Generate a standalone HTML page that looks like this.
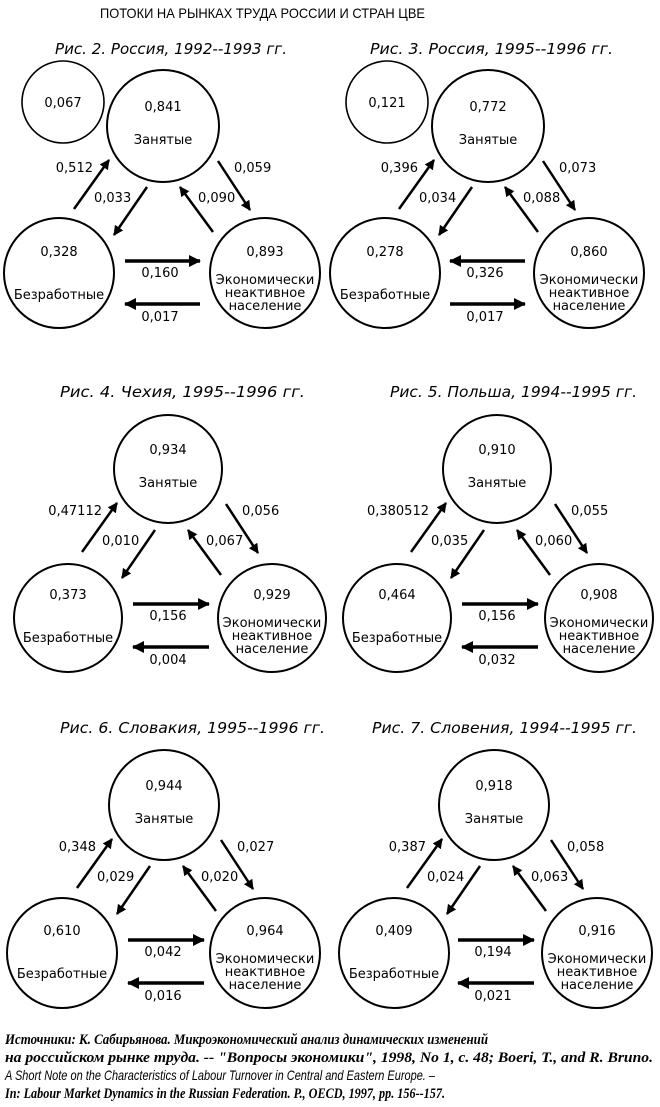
<!DOCTYPE html>
<html><head><meta charset="utf-8"><style>
html,body{margin:0;padding:0;background:#fff;}
svg{display:block;}
.t{font-family:"DejaVu Sans","Liberation Sans",sans-serif;font-size:13px;fill:#000;}
.c{text-anchor:middle;}
.ttl{font-family:"DejaVu Sans","Liberation Sans",sans-serif;font-style:italic;font-size:15px;fill:#000;}
.ft{font-family:"Liberation Serif",serif;font-style:italic;font-weight:bold;font-size:14.5px;fill:#000;}
.fs{font-family:"Liberation Sans",sans-serif;font-style:italic;font-size:14px;fill:#000;}
circle{fill:none;stroke:#000;stroke-width:2;}
.ar{stroke:#000;stroke-width:2.5;fill:none;marker-end:url(#ah);}
.hr{stroke:#000;stroke-width:3.5;fill:none;marker-end:url(#ah2);}
</style></head><body>
<svg width="660" height="1107" viewBox="0 0 660 1107" xmlns="http://www.w3.org/2000/svg">
<defs>
<marker id="ah" markerUnits="userSpaceOnUse" markerWidth="12" markerHeight="12" refX="9" refY="5" orient="auto"><path d="M0,0 L10,5 L0,10 Z" fill="#000"/></marker>
<marker id="ah2" markerUnits="userSpaceOnUse" markerWidth="14" markerHeight="14" refX="11" refY="6" orient="auto"><path d="M0,0 L12,6 L0,12 Z" fill="#000"/></marker>
</defs>
<text x="100" y="18" font-family="Liberation Sans, sans-serif" font-size="14" textLength="325" lengthAdjust="spacingAndGlyphs">ПОТОКИ НА РЫНКАХ ТРУДА РОССИИ И СТРАН ЦВЕ</text>

<!-- Fig 2 -->
<g>
<text class="ttl" x="55" y="54" textLength="232" lengthAdjust="spacingAndGlyphs">Рис. 2. Россия, 1992--1993 гг.</text>
<circle cx="63" cy="102" r="41" style="stroke-width:1.6"/>
<text class="t c" x="63" y="107">0,067</text>
<circle cx="163" cy="126" r="56"/><text class="t c" x="163" y="111">0,841</text><text class="t c" x="163" y="144">Занятые</text>
<circle cx="59" cy="273" r="55"/><text class="t c" x="59" y="256">0,328</text><text class="t c" x="59" y="299">Безработные</text>
<circle cx="265" cy="273" r="55"/><text class="t c" x="265" y="256">0,893</text><text class="t c" x="265" y="284">Экономически</text><text class="t c" x="265" y="297">неактивное</text><text class="t c" x="265" y="310">население</text>
<line class="ar" x1="74" y1="209" x2="109" y2="160"/><text class="t" x="93" y="172" text-anchor="end">0,512</text>
<line class="ar" x1="147" y1="187" x2="114" y2="235"/><text class="t" x="94" y="202">0,033</text>
<line class="ar" x1="213" y1="232" x2="180" y2="187"/><text class="t" x="198" y="202">0,090</text>
<line class="ar" x1="218" y1="161" x2="250" y2="210"/><text class="t" x="234" y="172">0,059</text>
<line class="hr" x1="125" y1="261" x2="200" y2="261"/><text class="t c" x="160" y="277">0,160</text>
<line class="hr" x1="200" y1="304" x2="125" y2="304"/><text class="t c" x="160" y="321">0,017</text>
</g>

<!-- Fig 3 -->
<g transform="translate(325,0)">
<text class="ttl" x="45" y="54" textLength="243" lengthAdjust="spacingAndGlyphs">Рис. 3. Россия, 1995--1996 гг.</text>
<circle cx="62" cy="102" r="41" style="stroke-width:1.6"/>
<text class="t c" x="62" y="107">0,121</text>
<circle cx="163" cy="126" r="56"/><text class="t c" x="163" y="111">0,772</text><text class="t c" x="163" y="144">Занятые</text>
<circle cx="60" cy="273" r="55"/><text class="t c" x="60" y="256">0,278</text><text class="t c" x="60" y="299">Безработные</text>
<circle cx="264" cy="273" r="55"/><text class="t c" x="264" y="256">0,860</text><text class="t c" x="264" y="284">Экономически</text><text class="t c" x="264" y="297">неактивное</text><text class="t c" x="264" y="310">население</text>
<line class="ar" x1="74" y1="209" x2="109" y2="160"/><text class="t" x="93" y="172" text-anchor="end">0,396</text>
<line class="ar" x1="147" y1="187" x2="114" y2="235"/><text class="t" x="94" y="202">0,034</text>
<line class="ar" x1="213" y1="232" x2="180" y2="187"/><text class="t" x="198" y="202">0,088</text>
<line class="ar" x1="218" y1="161" x2="250" y2="210"/><text class="t" x="234" y="172">0,073</text>
<line class="hr" x1="200" y1="261" x2="125" y2="261"/><text class="t c" x="160" y="277">0,326</text>
<line class="hr" x1="125" y1="304" x2="200" y2="304"/><text class="t c" x="160" y="321">0,017</text>
</g>

<!-- Fig 4 -->
<g transform="translate(6,343)">
<text class="ttl" x="54" y="54" textLength="245" lengthAdjust="spacingAndGlyphs">Рис. 4. Чехия, 1995--1996 гг.</text>
<circle cx="162" cy="126" r="54"/><text class="t c" x="162" y="111">0,934</text><text class="t c" x="162" y="144">Занятые</text>
<circle cx="62" cy="275" r="54"/><text class="t c" x="62" y="256">0,373</text><text class="t c" x="62" y="299">Безработные</text>
<circle cx="266" cy="275" r="54"/><text class="t c" x="266" y="256">0,929</text><text class="t c" x="266" y="284">Экономически</text><text class="t c" x="266" y="297">неактивное</text><text class="t c" x="266" y="310">население</text>
<line class="ar" x1="76" y1="209" x2="111" y2="160"/><text class="t" x="96" y="172" text-anchor="end">0,47112</text>
<line class="ar" x1="149" y1="187" x2="116" y2="235"/><text class="t" x="96" y="202">0,010</text>
<line class="ar" x1="215" y1="232" x2="182" y2="187"/><text class="t" x="200" y="202">0,067</text>
<line class="ar" x1="220" y1="161" x2="252" y2="210"/><text class="t" x="236" y="172">0,056</text>
<line class="hr" x1="127" y1="261" x2="203" y2="261"/><text class="t c" x="162" y="277">0,156</text>
<line class="hr" x1="203" y1="304" x2="127" y2="304"/><text class="t c" x="162" y="321">0,004</text>
</g>

<!-- Fig 5 -->
<g transform="translate(335,343)">
<text class="ttl" x="55" y="54" textLength="247" lengthAdjust="spacingAndGlyphs">Рис. 5. Польша, 1994--1995 гг.</text>
<circle cx="162" cy="126" r="54"/><text class="t c" x="162" y="111">0,910</text><text class="t c" x="162" y="144">Занятые</text>
<circle cx="62" cy="275" r="54"/><text class="t c" x="62" y="256">0,464</text><text class="t c" x="62" y="299">Безработные</text>
<circle cx="264" cy="275" r="54"/><text class="t c" x="264" y="256">0,908</text><text class="t c" x="264" y="284">Экономически</text><text class="t c" x="264" y="297">неактивное</text><text class="t c" x="264" y="310">население</text>
<line class="ar" x1="76" y1="209" x2="111" y2="160"/><text class="t" x="94" y="172" text-anchor="end">0,380512</text>
<line class="ar" x1="149" y1="187" x2="116" y2="235"/><text class="t" x="96" y="202">0,035</text>
<line class="ar" x1="215" y1="232" x2="182" y2="187"/><text class="t" x="200" y="202">0,060</text>
<line class="ar" x1="220" y1="161" x2="252" y2="210"/><text class="t" x="236" y="172">0,055</text>
<line class="hr" x1="127" y1="261" x2="203" y2="261"/><text class="t c" x="162" y="277">0,156</text>
<line class="hr" x1="203" y1="304" x2="127" y2="304"/><text class="t c" x="162" y="321">0,032</text>
</g>

<!-- Fig 6 -->
<g transform="translate(2,679)">
<text class="ttl" x="58" y="54" textLength="265" lengthAdjust="spacingAndGlyphs">Рис. 6. Словакия, 1995--1996 гг.</text>
<circle cx="162" cy="126" r="55"/><text class="t c" x="162" y="111">0,944</text><text class="t c" x="162" y="144">Занятые</text>
<circle cx="60" cy="274" r="55"/><text class="t c" x="60" y="256">0,610</text><text class="t c" x="60" y="299">Безработные</text>
<circle cx="263" cy="274" r="55"/><text class="t c" x="263" y="256">0,964</text><text class="t c" x="263" y="284">Экономически</text><text class="t c" x="263" y="297">неактивное</text><text class="t c" x="263" y="310">население</text>
<line class="ar" x1="75" y1="209" x2="110" y2="160"/><text class="t" x="94" y="172" text-anchor="end">0,348</text>
<line class="ar" x1="148" y1="187" x2="115" y2="235"/><text class="t" x="95" y="202">0,029</text>
<line class="ar" x1="214" y1="232" x2="181" y2="187"/><text class="t" x="199" y="202">0,020</text>
<line class="ar" x1="219" y1="161" x2="251" y2="210"/><text class="t" x="235" y="172">0,027</text>
<line class="hr" x1="126" y1="261" x2="202" y2="261"/><text class="t c" x="161" y="277">0,042</text>
<line class="hr" x1="202" y1="304" x2="126" y2="304"/><text class="t c" x="161" y="321">0,016</text>
</g>

<!-- Fig 7 -->
<g transform="translate(332,679)">
<text class="ttl" x="40" y="54" textLength="265" lengthAdjust="spacingAndGlyphs">Рис. 7. Словения, 1994--1995 гг.</text>
<circle cx="162" cy="126" r="55"/><text class="t c" x="162" y="111">0,918</text><text class="t c" x="162" y="144">Занятые</text>
<circle cx="62" cy="274" r="55"/><text class="t c" x="62" y="256">0,409</text><text class="t c" x="62" y="299">Безработные</text>
<circle cx="265" cy="274" r="55"/><text class="t c" x="265" y="256">0,916</text><text class="t c" x="265" y="284">Экономически</text><text class="t c" x="265" y="297">неактивное</text><text class="t c" x="265" y="310">население</text>
<line class="ar" x1="75" y1="209" x2="110" y2="160"/><text class="t" x="94" y="172" text-anchor="end">0,387</text>
<line class="ar" x1="148" y1="187" x2="115" y2="235"/><text class="t" x="95" y="202">0,024</text>
<line class="ar" x1="214" y1="232" x2="181" y2="187"/><text class="t" x="199" y="202">0,063</text>
<line class="ar" x1="219" y1="161" x2="251" y2="210"/><text class="t" x="235" y="172">0,058</text>
<line class="hr" x1="126" y1="261" x2="202" y2="261"/><text class="t c" x="161" y="277">0,194</text>
<line class="hr" x1="202" y1="304" x2="126" y2="304"/><text class="t c" x="161" y="321">0,021</text>
</g>

<text class="ft" x="5" y="1044" textLength="483" lengthAdjust="spacingAndGlyphs">Источники: К. Сабирьянова. Микроэкономический анализ динамических изменений</text>
<text class="ft" x="5" y="1062" textLength="648" lengthAdjust="spacingAndGlyphs">на российском рынке труда. -- "Вопросы экономики", 1998, No 1, с. 48; Boeri, T., and R. Bruno.</text>
<text class="fs" x="5" y="1080" textLength="430" lengthAdjust="spacingAndGlyphs">A Short Note on the Characteristics of Labour Turnover in Central and Eastern Europe. –</text>
<text class="ft" x="5" y="1098" textLength="440" lengthAdjust="spacingAndGlyphs">In: Labour Market Dynamics in the Russian Federation. P., OECD, 1997, pp. 156--157.</text>
</svg>
</body></html>
